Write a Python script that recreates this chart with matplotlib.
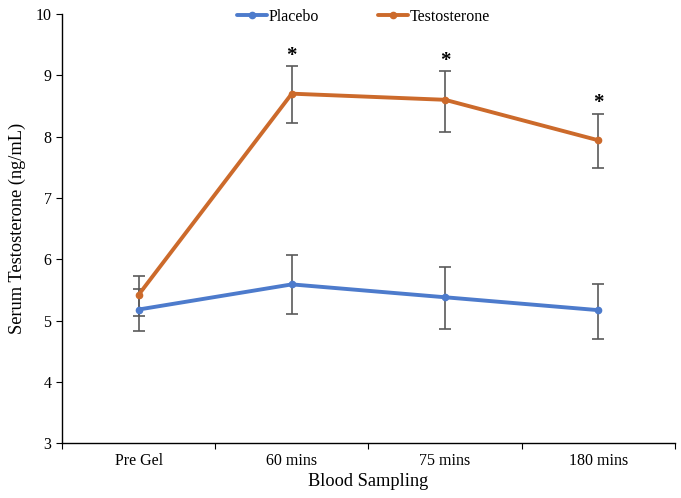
import matplotlib
matplotlib.use("Agg")
import matplotlib.pyplot as plt
import numpy as np

plt.rcParams["font.family"] = ["Liberation Serif", "DejaVu Serif"]

categories = ["Pre Gel", "60 mins", "75 mins", "180 mins"]

placebo_mean = [5.18, 5.59, 5.38, 5.17]
placebo_upper = [5.51, 6.07, 5.88, 5.60]
placebo_lower = [4.83, 5.10, 4.86, 4.70]

testo_mean = [5.42, 8.70, 8.60, 7.94]
testo_upper = [5.73, 9.15, 9.07, 8.37]
testo_lower = [5.08, 8.22, 8.08, 7.49]

significant = [False, True, True, True]

BLUE = "#4d7bcc"
ORANGE = "#cc6a2b"
GREY = "#5a5a5a"

fig = plt.figure(figsize=(6.81, 4.98), dpi=100)
ax = fig.add_axes([0.091, 0.110, 0.900, 0.862])

x = np.arange(len(categories)) + 0.5


def draw_series(mean, upper, lower, color, label):
    mean = np.array(mean)
    yerr = [mean - np.array(lower), np.array(upper) - mean]
    ax.errorbar(x, mean, yerr=yerr, fmt="none", ecolor=GREY, elinewidth=1.2,
                capsize=4.5, capthick=1.2, zorder=2)
    ax.plot(x, mean, color=color, lw=2.8, marker="o", markersize=4.5,
            label=label, zorder=3, solid_capstyle="round")


draw_series(placebo_mean, placebo_upper, placebo_lower, BLUE, "Placebo")
draw_series(testo_mean, testo_upper, testo_lower, ORANGE, "Testosterone")

for xi, up, sig in zip(x, testo_upper, significant):
    if sig:
        ax.text(xi, up + 0.17, "*", ha="center", va="center", fontsize=15,
                fontweight="bold")

ax.set_xlim(0, 4)
ax.set_ylim(3, 10)
ax.set_yticks(range(3, 11))
ax.set_xticks(range(0, 5))
ax.set_xticklabels([])
ax.set_xticks(x, minor=True)
ax.set_xticklabels(categories, minor=True)
ax.tick_params(axis="x", which="minor", length=0, pad=7, labelsize=11.5)
ax.tick_params(axis="x", which="major", length=4, direction="out")
ax.tick_params(axis="y", length=4, labelsize=11.5)

for side in ("top", "right"):
    ax.spines[side].set_visible(False)
for side in ("left", "bottom"):
    ax.spines[side].set_color("black")
    ax.spines[side].set_linewidth(1.0)

ax.set_xlabel("Blood Sampling", fontsize=13.2, labelpad=3)
ax.set_ylabel("Serum Testosterone (ng/mL)", fontsize=13.2, labelpad=7)

ax.legend(loc="upper center", bbox_to_anchor=(0.492, 1.045), ncol=2,
          frameon=False, fontsize=11.5, handlelength=1.9, handletextpad=0.1,
          columnspacing=3.7)

fig.savefig("out.png", dpi=100)
